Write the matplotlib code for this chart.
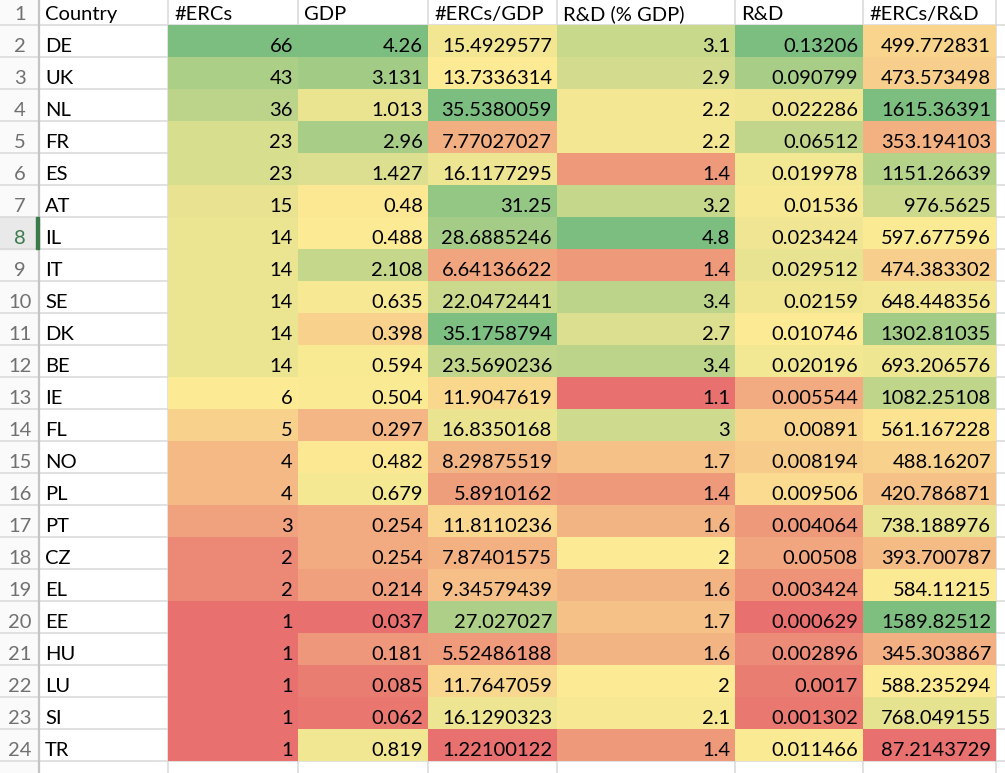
import numpy as np
import matplotlib
matplotlib.use("Agg")
import matplotlib.pyplot as plt
from matplotlib.patches import Rectangle

plt.rcParams['font.family'] = ['Lato', 'DejaVu Sans']

headers = ["Country", "#ERCs", "GDP", "#ERCs/GDP", "R&D (% GDP)", "R&D", "#ERCs/R&D"]
countries = ["DE", "UK", "NL", "FR", "ES", "AT", "IL", "IT", "SE", "DK", "BE", "IE",
             "FL", "NO", "PL", "PT", "CZ", "EL", "EE", "HU", "LU", "SI", "TR"]
ercs = [66, 43, 36, 23, 23, 15, 14, 14, 14, 14, 14, 6, 5, 4, 4, 3, 2, 2, 1, 1, 1, 1, 1]
gdp = [4.26, 3.131, 1.013, 2.96, 1.427, 0.48, 0.488, 2.108, 0.635, 0.398, 0.594, 0.504,
       0.297, 0.482, 0.679, 0.254, 0.254, 0.214, 0.037, 0.181, 0.085, 0.062, 0.819]
ercs_gdp = [15.4929577, 13.7336314, 35.5380059, 7.77027027, 16.1177295, 31.25, 28.6885246,
            6.64136622, 22.0472441, 35.1758794, 23.5690236, 11.9047619, 16.8350168,
            8.29875519, 5.8910162, 11.8110236, 7.87401575, 9.34579439, 27.027027,
            5.52486188, 11.7647059, 16.1290323, 1.22100122]
rd_pct = [3.1, 2.9, 2.2, 2.2, 1.4, 3.2, 4.8, 1.4, 3.4, 2.7, 3.4, 1.1, 3, 1.7, 1.4, 1.6,
          2, 1.6, 1.7, 1.6, 2, 2.1, 1.4]
rd = [0.13206, 0.090799, 0.022286, 0.06512, 0.019978, 0.01536, 0.023424, 0.029512,
      0.02159, 0.010746, 0.020196, 0.005544, 0.00891, 0.008194, 0.009506, 0.004064,
      0.00508, 0.003424, 0.000629, 0.002896, 0.0017, 0.001302, 0.011466]
ercs_rd = [499.772831, 473.573498, 1615.36391, 353.194103, 1151.26639, 976.5625,
           597.677596, 474.383302, 648.448356, 1302.81035, 693.206576, 1082.25108,
           561.167228, 488.16207, 420.786871, 738.188976, 393.700787, 584.11215,
           1589.82512, 345.303867, 588.235294, 768.049155, 87.2143729]

columns = [ercs, gdp, ercs_gdp, rd_pct, rd, ercs_rd]

# sheet geometry (pixels)
col_edges = [39, 168, 298, 428, 557, 735, 863, 996]
row_h = 32
first_bottom = 25
selected_row = 8

RED = np.array([232, 112, 110]) / 255
YEL = np.array([252, 234, 148]) / 255
GRN = np.array([123, 190, 128]) / 255


def scale_colors(vals):
    v = np.asarray(vals, dtype=float)
    lo, mid, hi = v.min(), np.percentile(v, 50), v.max()
    out = []
    for x in v:
        if x <= mid:
            t = 0 if mid == lo else (x - lo) / (mid - lo)
            out.append(RED + (YEL - RED) * t)
        else:
            t = (x - mid) / (hi - mid)
            out.append(YEL + (GRN - YEL) * t)
    return out


fig = plt.figure(figsize=(10.05, 7.73), dpi=100)
ax = fig.add_axes([0, 0, 1, 1])
ax.set_xlim(0, 1005)
ax.set_ylim(773, 0)
ax.axis("off")

n_rows = len(countries) + 1  # header + data
row_tops = [first_bottom - row_h + i * row_h for i in range(n_rows + 2)]

# row header column background
ax.add_patch(Rectangle((0, 0), 39, 773, color="#fafafa", zorder=0))
sel_top = row_tops[selected_row - 1]
ax.add_patch(Rectangle((0, sel_top), 39, row_h, color="#e9e9e9", zorder=0))

# gridlines
for y in row_tops[1:]:
    ax.plot([0, 1005], [y, y], color="#d9d9d9", lw=1.1, zorder=1)
for x in col_edges[1:]:
    ax.plot([x, x], [0, 773], color="#d9d9d9", lw=1.1, zorder=1)
ax.plot([39, 39], [0, 773], color="#c4c4c4", lw=1.6, zorder=4)
ax.add_patch(Rectangle((36, sel_top), 3, row_h, color="#3b7a4b", zorder=5))

# colored cells
for j, vals in enumerate(columns):
    x0, x1 = col_edges[j + 1], col_edges[j + 2]
    for i, c in enumerate(scale_colors(vals)):
        top = row_tops[i + 1]
        ax.add_patch(Rectangle((x0, top), x1 - x0, row_h, color=c, lw=0, zorder=2))

fs = 14.5
# row numbers
for r in range(1, n_rows + 1):
    base = row_tops[r - 1] + row_h - 5
    ax.text(20, base, str(r), ha="center", va="baseline", fontsize=fs,
            color="#3b7a4b" if r == selected_row else "#707070", zorder=6)

# header row
for j, h in enumerate(headers):
    ax.text(col_edges[j] + 6, first_bottom - 5, h, ha="left", va="baseline",
            fontsize=fs, color="black", zorder=6)

# data rows
for i, c in enumerate(countries):
    base = row_tops[i + 1] + row_h - 5
    ax.text(col_edges[0] + 6, base, c, ha="left", va="baseline", fontsize=fs, zorder=6)
    for j, vals in enumerate(columns):
        ax.text(col_edges[j + 2] - 5, base, "{:.9g}".format(vals[i]), ha="right",
                va="baseline", fontsize=fs, zorder=6)

fig.savefig("out.png", dpi=100)
